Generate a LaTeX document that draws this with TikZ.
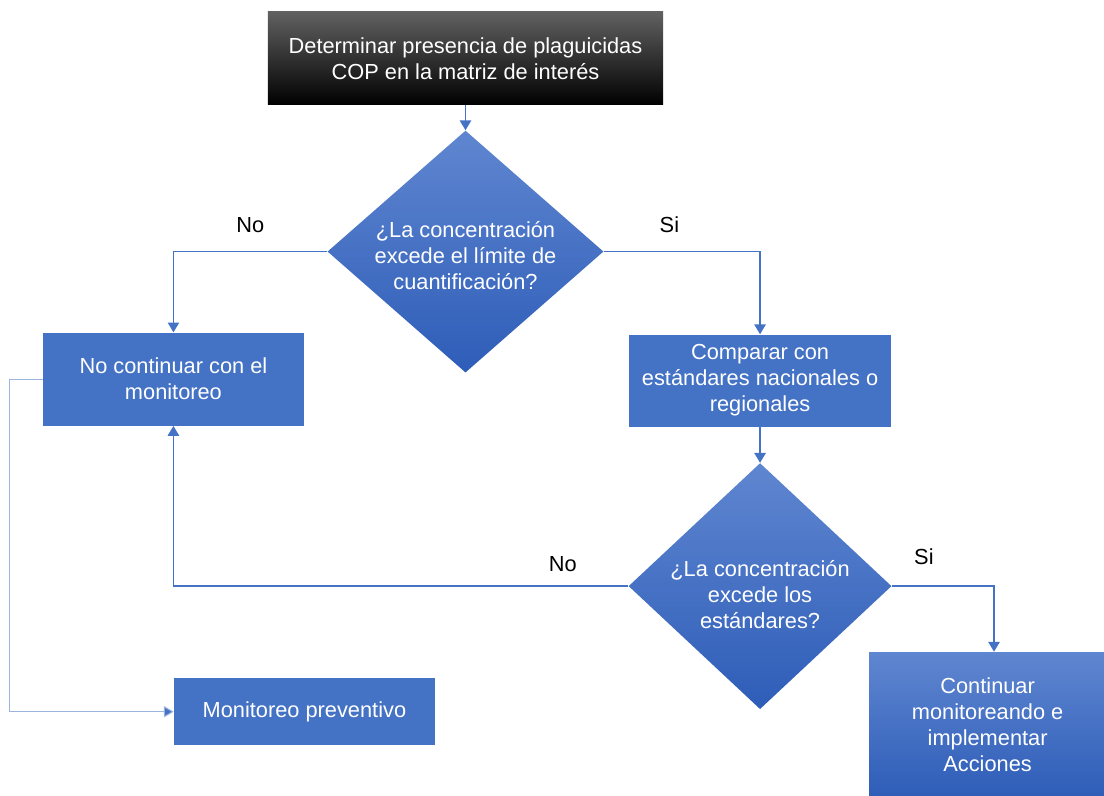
\documentclass[tikz,border=0pt]{standalone}
\usepackage{fontspec}
\setmainfont{Liberation Sans}
\usetikzlibrary{positioning, shapes.geometric, arrows.meta}

\definecolor{boxblue}{HTML}{4472C4}
\definecolor{lightblue}{HTML}{5F86D0}
\definecolor{darkblue}{HTML}{2E5DB8}
\definecolor{thinblue}{HTML}{9AB3E0}

\tikzset{
  process/.style={rectangle, fill=boxblue, text=white, align=center, inner sep=0pt},
  gradbox/.style={rectangle, top color=lightblue, bottom color=darkblue, text=white, align=center, inner sep=0pt},
  startbox/.style={rectangle, top color=black!62, middle color=black, bottom color=black, text=white, align=center, inner sep=0pt},
  decision/.style={diamond, aspect=1.14, inner sep=0pt, top color=lightblue, bottom color=darkblue},
  question/.style={text=white, align=center, inner sep=0pt},
  flow/.style={draw=boxblue, line width=1.2pt, -{Triangle[width=8pt,length=7pt]}},
  thinflow/.style={draw=thinblue, line width=0.7pt, -{Triangle[width=8pt,length=7pt,fill=boxblue]}},
  lbl/.style={text=black, inner sep=0pt}
}

\begin{document}
\begin{tikzpicture}[font=\fontsize{15.5}{18.5}\selectfont]

  \useasboundingbox (-11.6375,1.4625) rectangle (15.9625,-18.4375);

  \node (S) [startbox, minimum width=9.875cm, minimum height=2.325cm] {Determinar presencia de plaguicidas\\COP en la matriz de interés};
  \node (Q1) [decision, below=0.625cm of S, minimum width=6.9cm, minimum height=6.05cm,
    label={[question, yshift=-0.1cm]center:{¿La concentración\\excede el límite de\\cuantificación?}}] {};

  \node (N1) [process, left=0.575cm of Q1, yshift=-3.19cm, minimum width=6.525cm, minimum height=2.325cm] {No continuar con el\\monitoreo};
  \node (C1) [process, right=0.625cm of Q1, yshift=-3.225cm, minimum width=6.55cm, minimum height=2.3cm] {Comparar con\\estándares nacionales o\\regionales};

  \node (Q2) [decision, below=0.9cm of C1, minimum width=6.575cm, minimum height=6.15cm,
    label={[question, yshift=-0.2cm]center:{¿La concentración\\excede los\\estándares?}}] {};
  \node (A1) [gradbox, right=-0.575cm of Q2, yshift=-3.46cm, minimum width=5.925cm, minimum height=3.625cm] {Continuar\\monitoreando e\\implementar\\Acciones};

  \node (P1) [process, below=6.3cm of N1, xshift=3.275cm, minimum width=6.525cm, minimum height=1.675cm] {Monitoreo preventivo};

  \draw [flow] (S) -- (Q1);
  \draw [flow] (Q1.west) -| node [lbl, pos=0.25, above=13pt] {No} (N1.north);
  \draw [flow] (Q1.east) -| node [lbl, pos=0.21, above=12.5pt] {Si} (C1.north);
  \draw [flow] (C1) -- (Q2);
  \draw [flow] (Q2.west) -| node [lbl, pos=0.072, above=10pt] {No} (N1.south);
  \draw [flow] (Q2.east) -| node [lbl, pos=0.157, above=14.5pt] {Si} ([xshift=0.16cm]A1.north);
  \draw [thinflow] (N1.west) -- ++(-0.825,0) |- (P1.west);

\end{tikzpicture}
\end{document}
